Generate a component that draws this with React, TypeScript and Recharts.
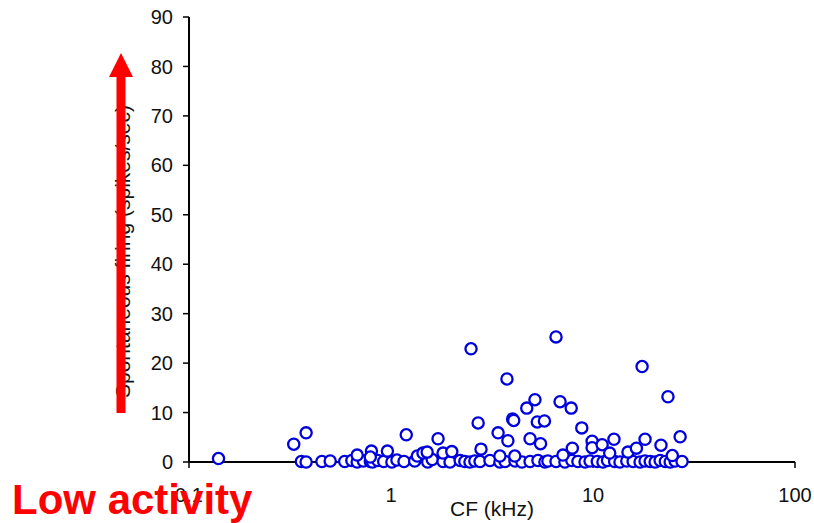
import { ScatterChart, Scatter, XAxis, YAxis, Label } from "recharts";

// CF (kHz) vs spontaneous rate (spikes/sec).
const elevatedCf = [
  0.14, 0.33, 0.38, 0.68, 0.8, 0.79, 0.96, 1.19, 1.35, 1.44, 1.51, 1.71, 1.81,
  2.0, 2.49, 2.7, 2.79, 3.39, 3.46, 3.75, 3.79, 4.0, 4.05, 4.1, 4.7, 4.88, 5.16,
  5.3, 5.5, 5.75, 6.56, 6.87, 7.1, 7.8, 7.9, 8.8, 9.9, 9.9, 11.1, 12.1, 12.7,
  14.9, 16.4, 17.5, 18.1, 21.7, 23.5, 24.7, 27.0,
];
const elevatedRate = [
  0.7, 3.6, 5.9, 1.4, 2.2, 1.0, 2.2, 5.5, 1.2, 1.8, 2.0, 4.7, 1.8, 2.1, 22.9,
  7.9, 2.6, 5.9, 1.2, 16.8, 4.3, 8.7, 8.4, 1.2, 10.9, 4.7, 12.6, 8.1, 3.7, 8.3,
  25.3, 12.2, 1.4, 10.9, 2.8, 6.9, 4.2, 2.9, 3.5, 1.8, 4.6, 2.0, 2.8, 19.3, 4.6,
  3.4, 13.2, 1.3, 5.1,
];

const baselineCf = [
  0.36, 0.38, 0.455, 0.5, 0.59, 0.64, 0.68, 0.73, 0.79, 0.81, 0.86, 0.92, 1.01,
  1.07, 1.16, 1.31, 1.52, 1.6, 1.81, 1.96, 2.2, 2.32, 2.46, 2.6, 2.76, 3.09,
  3.46, 3.67, 4.11, 4.45, 4.88, 5.34, 5.78, 5.98, 6.56, 7.26, 7.86, 8.42, 9.13,
  9.67, 10.5, 11.2, 11.8, 12.8, 13.6, 14.7, 15.8, 17.1, 18.1, 19.2, 20.3, 21.5,
  22.8, 24.1, 25.5, 27.6,
];
const baselineRate = [
  0.1, 0.0, 0.1, 0.2, 0.1, 0.3, 0.0, 0.2, 0.1, 0.0, 0.3, 0.1, 0.0, 0.4, 0.1,
  0.2, 0.0, 0.5, 0.1, 0.0, 0.3, 0.1, 0.0, 0.2, 0.1, 0.3, 0.0, 0.1, 0.2, 0.0,
  0.1, 0.3, 0.0, 0.2, 0.1, 0.0, 0.3, 0.1, 0.0, 0.2, 0.1, 0.0, 0.3, 0.1, 0.0,
  0.2, 0.1, 0.0, 0.2, 0.1, 0.0, 0.3, 0.1, 0.0, 0.2, 0.1,
];

const xTicks = [0.1, 1, 10, 100];
const yTicks = [0, 10, 20, 30, 40, 50, 60, 70, 80, 90];

const points = [
  ...baselineCf.map((cf, i) => ({ cf, rate: baselineRate[i] })),
  ...elevatedCf.map((cf, i) => ({ cf, rate: elevatedRate[i] })),
];

const FONT = "'Liberation Sans', Arial, sans-serif";

const Ring = (p: any) => (
  <circle cx={p.cx} cy={p.cy} r={5.6} fill="#fff" stroke="#0000dd" strokeWidth={2.3} />
);

export default function App() {
  return (
    <div style={{ position: "absolute", left: 0, top: 0, width: 814, height: 523, background: "#fff" }}>
      <ScatterChart
        width={814}
        height={523}
        margin={{ top: 17, right: 19, bottom: 21, left: 129 }}
        style={{ fontFamily: FONT }}
      >
        <XAxis
          type="number"
          dataKey="cf"
          scale="log"
          domain={[0.1, 100]}
          ticks={xTicks}
          tickFormatter={(v) => String(v)}
          height={40}
          axisLine={{ stroke: "#000", strokeWidth: 2 }}
          tickLine={{ stroke: "#000", strokeWidth: 1.5 }}
          tickSize={6}
          tickMargin={20}
          tick={{ fill: "#111", fontSize: 20 }}
          allowDataOverflow
        >
          <Label
            content={({ viewBox }: any) => (
              <text
                x={viewBox.x + viewBox.width / 2}
                y={viewBox.y + viewBox.height + 14}
                textAnchor="middle"
                fill="#111"
                fontSize={21}
                fontFamily={FONT}
              >
                CF (kHz)
              </text>
            )}
          />
        </XAxis>
        <YAxis
          type="number"
          dataKey="rate"
          domain={[0, 90]}
          ticks={yTicks}
          width={60}
          axisLine={{ stroke: "#000", strokeWidth: 2 }}
          tickLine={{ stroke: "#000", strokeWidth: 1.5 }}
          tickSize={6}
          tickMargin={10}
          tick={{ fill: "#111", fontSize: 20 }}
        >
          <Label
            content={({ viewBox }: any) => {
              const cx = viewBox.x - 7;
              const cy = viewBox.y + viewBox.height / 2 + 12;
              return (
                <text
                  x={cx}
                  y={cy}
                  textAnchor="middle"
                  dominantBaseline="central"
                  transform={`rotate(-90 ${cx} ${cy})`}
                  fill="#111"
                  fontSize={21}
                  fontFamily={FONT}
                >
                  Spontaneous firing (spikes/sec)
                </text>
              );
            }}
          />
        </YAxis>
        <Scatter data={points} shape={Ring} isAnimationActive={false} />
      </ScatterChart>

      {/* red annotation on top of the chart */}
      <svg
        width={814}
        height={523}
        style={{ position: "absolute", left: 0, top: 0, pointerEvents: "none" }}
      >
        <rect x={116.5} y={74} width={9} height={339} fill="#ff0000" />
        <polygon points="109,77 121,53 133,77" fill="#ff0000" />
        <text x={12} y={514} fill="#ff0000" fontSize={42} fontWeight="bold" fontFamily={FONT}>
          Low activity
        </text>
      </svg>
    </div>
  );
}
